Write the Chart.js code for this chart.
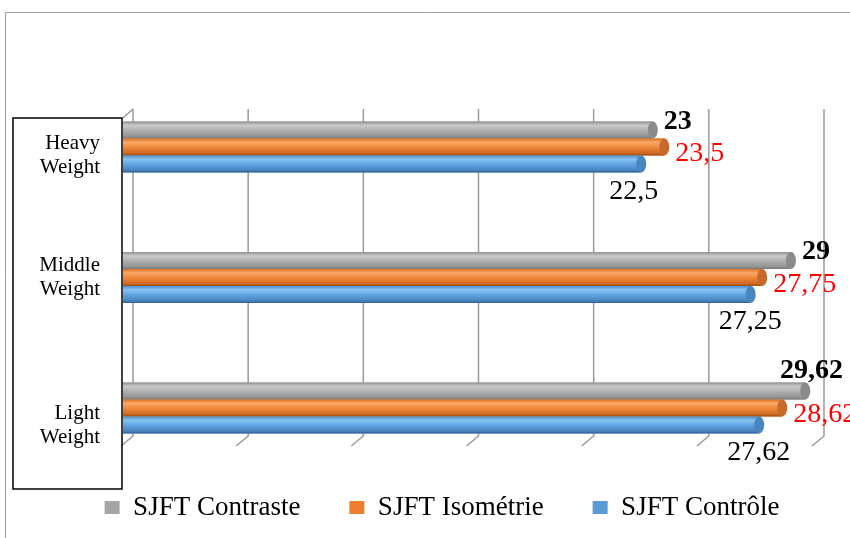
<!DOCTYPE html>
<html>
<head>
<meta charset="utf-8">
<script src="https://cdn.jsdelivr.net/npm/chart.js@4.4.0/dist/chart.umd.min.js"></script>
<style>
  html, body { margin: 0; padding: 0; background: #fff; }
</style>
</head>
<body>
<canvas id="sjftChart" width="850" height="538"></canvas>
<script>
// données
const categories = [['Heavy', 'Weight'], ['Middle', 'Weight'], ['Light', 'Weight']];
const seriesNames = ['SJFT Contraste', 'SJFT Isométrie', 'SJFT Contrôle'];
const contraste = [23, 29, 29.62];
const isometrie = [23.5, 27.75, 28.62];
const controle = [22.5, 27.25, 27.62];
const gridValues = [0, 5, 10, 15, 20, 25, 30];

const baseColors = ['#A5A5A5', '#ED7D31', '#5B9BD5'];
// dégradés pour imiter les cylindres 3D
const cylStops = [
    ['#8f8f8f', '#cacaca', '#b0b0b0', '#959595', '#767676'],
    ['#d9701f', '#fba868', '#f28a3d', '#d06b22', '#9c4c14'],
    ['#4d8cc7', '#88c3f2', '#62a6e2', '#4b86c0', '#2f5f8f']
];
const capColors = ['#8a8a8a', '#c8682a', '#4a86bf'];
// décalage vertical de chaque étiquette de catégorie (l'Excel 3D ne les centre pas)
const catLabelShift = [2, -7, 11];
const serif = '"Liberation Serif", "Times New Roman", serif';

function fmt(v) {
    return String(v).replace('.', ',');
}

const framePlugin = {
    id: 'frame',
    beforeDraw(chart) {
        const ctx = chart.ctx;
        ctx.save();
        ctx.fillStyle = '#fff';
        ctx.fillRect(0, 0, chart.width, chart.height);
        ctx.strokeStyle = '#a0a0a0';
        ctx.lineWidth = 1;
        ctx.beginPath();
        ctx.moveTo(5.5, chart.height);
        ctx.lineTo(5.5, 12.5);
        ctx.lineTo(chart.width, 12.5);
        ctx.stroke();
        ctx.restore();
    },
    beforeDatasetsDraw(chart) {
        // murs 3D : lignes de quadrillage à l'arrière + diagonales du sol
        const ctx = chart.ctx;
        const x = chart.scales.x;
        ctx.save();
        ctx.strokeStyle = '#9a9a9a';
        ctx.lineWidth = 1.5;
        gridValues.forEach(v => {
            const px = x.getPixelForValue(v);
            ctx.beginPath();
            ctx.moveTo(px + 10, 109);
            ctx.lineTo(px + 10, 436);
            ctx.lineTo(px - 2, 446);
            ctx.stroke();
        });
        ctx.beginPath();
        ctx.moveTo(x.getPixelForValue(0), 118);
        ctx.lineTo(x.getPixelForValue(0) + 10, 109);
        ctx.stroke();
        ctx.restore();
    },
    afterDatasetsDraw(chart) {
        const ctx = chart.ctx;
        ctx.save();
        chart.data.datasets.forEach((ds, di) => {
            const meta = chart.getDatasetMeta(di);
            meta.data.forEach(bar => {
                const p = bar.getProps(['x', 'y', 'base', 'height'], true);
                const top = p.y - p.height / 2;
                const bottom = p.y + p.height / 2;
                const g = ctx.createLinearGradient(0, top, 0, bottom);
                const st = cylStops[di];
                g.addColorStop(0, st[0]);
                g.addColorStop(0.22, st[1]);
                g.addColorStop(0.5, st[2]);
                g.addColorStop(0.85, st[3]);
                g.addColorStop(1, st[4]);
                ctx.fillStyle = g;
                ctx.fillRect(p.base, top, p.x - p.base, p.height);
                // bout du cylindre
                ctx.beginPath();
                ctx.ellipse(p.x, p.y, 5, p.height / 2, 0, 0, Math.PI * 2);
                ctx.fillStyle = capColors[di];
                ctx.fill();
            });
        });

        // étiquettes de valeurs
        ctx.textBaseline = 'alphabetic';
        ctx.textAlign = 'left';
        chart.data.datasets.forEach((ds, di) => {
            const meta = chart.getDatasetMeta(di);
            meta.data.forEach((bar, i) => {
                const p = bar.getProps(['x', 'y', 'height'], true);
                const txt = fmt(ds.data[i]);
                if (di === 0) {
                    ctx.font = 'bold 28px ' + serif;
                    ctx.fillStyle = '#000';
                    const w = ctx.measureText(txt).width;
                    let lx = p.x + 11;
                    let ly = p.y - p.height / 2 + 7;
                    if (lx + w > 843) {
                        lx = 843 - w;
                        ly = p.y - p.height / 2 - 5;
                    }
                    ctx.fillText(txt, lx, ly);
                } else if (di === 1) {
                    ctx.font = '28px ' + serif;
                    ctx.fillStyle = '#FF0000';
                    ctx.fillText(txt, p.x + 11, p.y + 14);
                } else {
                    ctx.font = '28px ' + serif;
                    ctx.fillStyle = '#000';
                    ctx.fillText(txt, p.x - 32, p.y + 35);
                }
            });
        });
        ctx.restore();
    },
    afterDraw(chart) {
        const ctx = chart.ctx;
        const y = chart.scales.y;
        ctx.save();
        // étiquettes des catégories dans le cadre noir
        ctx.font = '21px ' + serif;
        ctx.fillStyle = '#000';
        ctx.textAlign = 'right';
        ctx.textBaseline = 'alphabetic';
        categories.forEach((lines, i) => {
            const base = y.getPixelForValue(i) + catLabelShift[i];
            lines.forEach((t, k) => ctx.fillText(t, 100, base + k * 24));
        });
        ctx.strokeStyle = '#000';
        ctx.lineWidth = 1.5;
        ctx.strokeRect(13, 118, 109, 371);
        ctx.restore();
    }
};

const ctx = document.getElementById('sjftChart').getContext('2d');
const sjftChart = new Chart(ctx, {
    type: 'bar',
    data: {
        labels: categories,
        datasets: [
            { label: seriesNames[0], data: contraste, backgroundColor: baseColors[0] },
            { label: seriesNames[1], data: isometrie, backgroundColor: baseColors[1] },
            { label: seriesNames[2], data: controle, backgroundColor: baseColors[2] }
        ]
    },
    options: {
        indexAxis: 'y',
        responsive: false,
        animation: false,
        devicePixelRatio: 1,
        categoryPercentage: 0.39,
        barPercentage: 1,
        clip: false,
        layout: {
            padding: { left: 34, right: 0, top: 147, bottom: 7 }
        },
        scales: {
            x: {
                min: 0,
                max: 30,
                ticks: { display: false, stepSize: 5 },
                grid: { display: false, drawTicks: false },
                border: { display: false },
                afterFit(scale) { scale.height = 37; }
            },
            y: {
                offset: false,
                grid: { display: false, drawTicks: false },
                border: { display: false },
                ticks: { display: false },
                afterFit(scale) { scale.width = 89; }
            },
            // axe vide à droite, seulement pour laisser la place aux étiquettes
            yRight: {
                type: 'category',
                position: 'right',
                display: true,
                ticks: { display: false },
                grid: { display: false, drawTicks: false },
                border: { display: false },
                afterFit(scale) { scale.width = 36; }
            }
        },
        plugins: {
            tooltip: { enabled: false },
            legend: {
                position: 'bottom',
                labels: {
                    boxWidth: 15,
                    boxHeight: 13,
                    padding: 49,
                    color: '#000',
                    font: { family: serif, size: 27 }
                }
            }
        }
    },
    plugins: [framePlugin]
});
</script>
</body>
</html>
